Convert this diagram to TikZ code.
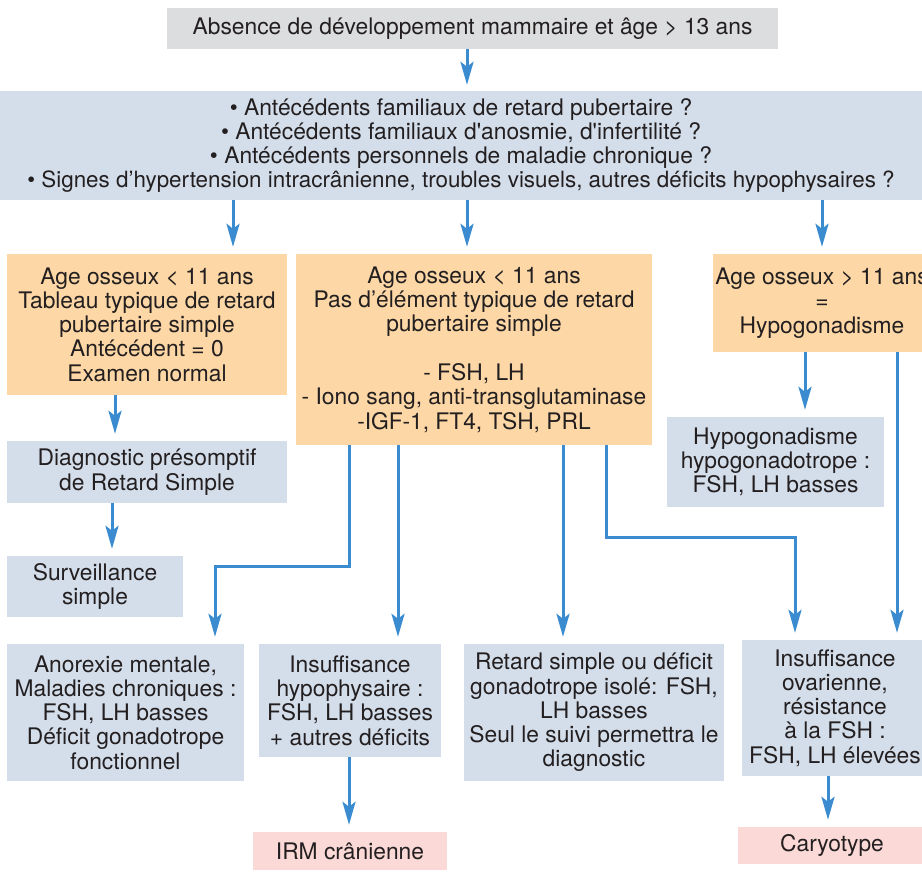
\documentclass[tikz,border=0pt]{standalone}
\usepackage{fontspec}
\setmainfont{TeX Gyre Heros}
\usepackage{xcolor}
\usepackage{tikz}
\usetikzlibrary{arrows.meta,positioning}

\definecolor{boxgray}{HTML}{DCDDDF}
\definecolor{boxblue}{HTML}{D4DEEA}
\definecolor{boxorange}{HTML}{FDD8A6}
\definecolor{boxpink}{HTML}{FAD9D6}
\definecolor{arrowblue}{HTML}{3A8BCF}
\definecolor{inktext}{HTML}{231F20}

\begin{document}
\begin{tikzpicture}[
  x=1pt, y=-1pt,
  font=\fontsize{22.8}{24.3}\selectfont,
  box/.style={rectangle, inner sep=0pt, align=center, text=inktext},
  grey/.style={box, fill=boxgray},
  blu/.style={box, fill=boxblue},
  ora/.style={box, fill=boxorange},
  pnk/.style={box, fill=boxpink},
  arr/.style={-{Stealth[length=23pt,width=13pt,inset=5pt]}, line width=3pt, arrowblue, shorten >=7pt}
]
\useasboundingbox (0,0) rectangle (922,882);
\node[grey, minimum width=611pt, minimum height=41pt] (top) at (472.5,28.5) {Absence de développement mammaire et âge > 13 ans};
\node[blu, minimum width=922pt, minimum height=109pt] (quest) at (461,145.5) {%
  • Antécédents familiaux de retard pubertaire ?\\
  • Antécédents familiaux d\textquotesingle anosmie, d\textquotesingle infertilité ?\\
  • Antécédents personnels de maladie chronique ?\\
  {\fontsize{22.4}{24.3}\selectfont • Signes d’hypertension intracrânienne, troubles visuels, autres déficits hypophysaires ?}};
\node[ora, minimum width=280pt, minimum height=141pt] (ageA) at (147,324.5) {Age osseux < 11 ans\\Tableau typique de retard\\pubertaire simple\\Antécédent = 0\\Examen normal};
\node[ora, minimum width=356pt, minimum height=191pt] (ageB) at (474,349.5) {Age osseux < 11 ans\\Pas d’élément typique de retard\\pubertaire simple\\[24.3pt]- FSH, LH\\- Iono sang, anti-transglutaminase\\-IGF-1, FT4, TSH, PRL};
\node[ora, minimum width=218pt, minimum height=98pt] (ageC) at (822,303) {Age osseux > 11 ans\\=\\Hypogonadisme};
\node[blu, minimum width=280pt, minimum height=62pt] (diag) at (147,472) {Diagnostic présomptif\\de Retard Simple};
\node[blu, minimum width=176pt, minimum height=61pt] (surv) at (95,586.5) {Surveillance\\simple};
\node[blu, minimum width=217pt, minimum height=90pt] (hypo) at (775.5,462) {Hypogonadisme\\hypogonadotrope :\\FSH, LH basses};
\node[blu, minimum width=237pt, minimum height=137pt] (anor) at (125.5,712.5) {Anorexie mentale,\\Maladies chroniques :\\FSH, LH basses\\Déficit gonadotrope\\fonctionnel};
\node[blu, minimum width=182pt, minimum height=113pt] (hyph) at (350,700.5) {Insuffisance\\hypophysaire :\\FSH, LH basses\\+ autres déficits};
\node[blu, minimum width=260pt, minimum height=137pt] (retd) at (594,712.5) {Retard simple ou déficit\\gonadotrope isolé: FSH,\\LH basses\\Seul le suivi permettra le\\diagnostic};
\node[blu, minimum width=186pt, minimum height=136pt] (ovar) at (835,708) {Insuffisance\\ovarienne,\\résistance\\à la FSH :\\FSH, LH élevées};
\node[pnk, minimum width=194pt, minimum height=38pt] (irm) at (350,851) {IRM crânienne};
\node[pnk, minimum width=188pt, minimum height=37pt] (cary) at (832,845.5) {Caryotype};
% connectors
\draw[arr, shorten >=6pt] (467,0 |- top.south) -- (467,0 |- quest.north);
\draw[arr] (233,0 |- quest.south) -- (233,0 |- ageA.north);
\draw[arr] (467,0 |- quest.south) -- (467,0 |- ageB.north);
\draw[arr] (822,0 |- quest.south) -- (822,0 |- ageC.north);
\draw[arr] (115,0 |- ageA.south) -- (115,0 |- diag.north);
\draw[arr] (112,0 |- diag.south) -- (112,0 |- surv.north);
\draw[arr] (349,0 |- ageB.south) -- (349,567) -| (215,0 |- anor.north);
\draw[arr] (398,0 |- ageB.south) -- (398,0 |- hyph.north);
\draw[arr] (563,0 |- ageB.south) -- (563,0 |- retd.north);
\draw[arr] (606,0 |- ageB.south) -- (606,538) -| (795,0 |- ovar.north);
\draw[arr] (805,0 |- ageC.south) -- (805,0 |- hypo.north);
\draw[arr] (897,0 |- ageC.south) -- (897,0 |- ovar.north);
\draw[arr] (349,0 |- hyph.south) -- (349,0 |- irm.north);
\draw[arr] (828,0 |- ovar.south) -- (828,0 |- cary.north);
\end{tikzpicture}
\end{document}
